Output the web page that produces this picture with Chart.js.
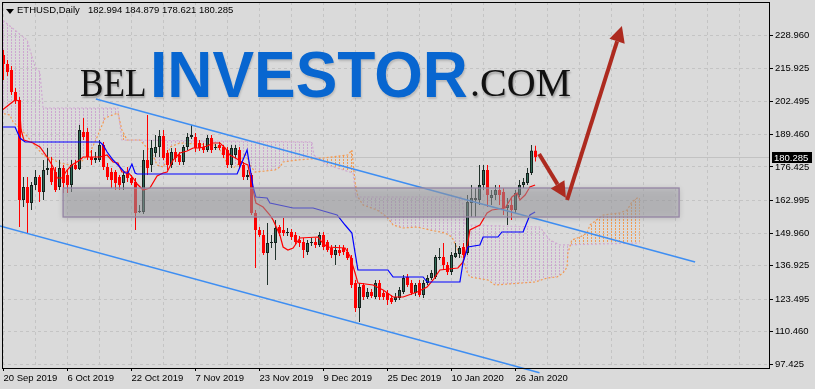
<!DOCTYPE html>
<html>
<head>
<meta charset="utf-8">
<title>ETHUSD Daily</title>
<style>
  html, body { margin: 0; padding: 0; background: #dadada; }
  #wrap { position: relative; width: 815px; height: 389px; overflow: hidden; }
  #chart { position: absolute; left: 0; top: 0; }
  .hdr { position: absolute; top: 4px; font: 9.5px "Liberation Sans", Arial, sans-serif; color: #000; white-space: pre; line-height: 12px; }
  #tri { position: absolute; left: 6px; top: 9px; width: 0; height: 0;
         border-left: 4px solid transparent; border-right: 4px solid transparent; border-top: 5px solid #000; }
  .logo { position: absolute; white-space: pre; transform-origin: 0 0; }
  .serif { font: 40px/40px "Liberation Serif", "Times New Roman", serif; color: #111;
           text-shadow: 1px 2px 2px rgba(0,0,0,0.3); }
  .sans { font: bold 65px/65px "Liberation Sans", Arial, sans-serif; color: #0866d0;
          text-shadow: 1px 2px 2px rgba(0,0,0,0.15); }
</style>
<script src="https://cdn.jsdelivr.net/npm/chart.js@4.4.1/dist/chart.umd.min.js"></script>
</head>
<body>
<div id="wrap">
  <canvas id="chart" width="815" height="389"></canvas>
  <div id="tri"></div>
  <div class="hdr" style="left:17px">ETHUSD,Daily</div>
  <div class="hdr" id="ohlc" style="left:88px"></div>
  <div class="logo serif" style="left:80px;top:63px;transform:scaleX(0.88)">BEL</div>
  <div class="logo sans" style="left:150px;top:42px;transform:scaleX(0.96)">INVESTOR</div>
  <div class="logo serif" style="left:470px;top:63px">.COM</div>
</div>
<script>
// daily candles, bar 0 = 20 Sep 2019
const opens = [221.2,217.6,215.2,206.4,203.2,163.2,168.4,162,169.2,172.4,
  166.4,175.2,176,174.4,168.4,176,173.2,169.2,177.2,175.6,
  190.4,190.4,180.4,179.2,179.2,185.2,176.4,174.4,174.4,172.4,
  170,174,172,170.4,158.4,158.4,179.2,177.2,182,184.4,
  188.8,182,177.2,182.4,181.2,178.4,184.4,188.4,188.4,186,
  184.4,183.2,188,184,185.2,184.4,183.2,177.2,181.2,183.2,
  177.2,172.4,173.2,158,151.2,149.2,142,146,146,152.4,
  151.2,150,150.4,149.2,147.2,146.4,142.4,146,146.4,145.2,
  149.2,146.4,144,141.2,143.2,144,142.4,140,130,120,
  129.2,124.4,126.4,124.4,130,126,126,124,123.2,124,
  126.4,132.4,130,126,130,125.2,130,132,132.4,140,
  140.4,137.2,134.4,140.4,141.6,144.4,142,162,163.2,163.2,
  169.2,175.2,164,165.2,167.2,166.4,160,161.2,159.2,165.2,
  169.2,170,174,182.994];
const highs = [223.2,219.2,216.8,208,204.4,172.4,172.4,170.4,175.2,173.2,
  179.2,184,180.4,176.4,179.2,177.2,175.2,179.2,179.2,193.2,
  196,192,183.2,182.4,187.2,186.4,178,176,175.2,173.2,
  174.4,176.4,173.2,172,161.2,183.2,197.2,187.2,189.2,191.2,
  191.2,183.2,184,184,182.4,185.2,190,193.2,190,187.2,
  186,189.2,189.2,185.6,186.4,185.2,184.4,185.2,185.2,184.4,
  178.4,175.2,174,159.2,152.4,151.2,154,149.2,155.2,153.2,
  156,152,151.6,150.4,148.8,148,147.2,148,148,150.4,
  150.4,147.2,145.2,145.2,145.2,145.2,144,141.2,131.2,130,
  130,128,127.6,131.2,131.2,127.2,127.2,125.2,126,128.4,
  133.2,133.6,131.2,130,131.2,131.2,133.2,135.2,141.2,144,
  146,138.4,142.4,146,144.8,146,165.2,169.2,168,177.2,
  177.2,177.2,167.2,169.2,169.2,168,164,164,167.2,171.2,
  172,176,185.2,184.879];
const lows = [211.2,212.8,205.2,201.6,152.4,160.4,150,159.2,167.2,162.4,
  163.2,173.2,169.2,166.4,167.2,166,166,166.4,175.2,175.2,
  187.2,179.2,177.2,178,178.4,175.2,171.2,168,167.2,167.2,
  167.2,170.4,169.2,151.2,158,157.6,173.2,174.4,180.4,180.4,
  179.2,175.2,176,178.4,177.2,177.2,183.2,187.6,182.4,182.8,
  182,182.4,182,183.2,183.2,180,176,176,180,176,
  171.2,171.2,157.2,136,148.4,141.2,129.2,144,139.2,148.8,
  148.8,148.8,147.2,145.2,144.4,140,141.2,144.8,144,144.4,
  143.2,142.4,140,137.2,140.8,141.2,139.2,128,118.4,114.4,
  123.2,123.6,124,123.6,123.2,123.2,121.2,121.6,122.4,123.2,
  125.6,128.4,125.2,124.8,124.4,124,129.2,131.2,131.6,139.2,
  135.2,133.2,133.2,140,140,140,141.2,156.4,156.4,161.2,
  167.2,160.4,161.2,163.2,161.2,157.2,153.2,155.2,158,164.4,
  168,169.2,173.2,178.621];
const closes = [217.6,214.4,206.4,203.2,163.2,168.4,162,169.2,172.4,166.4,
  175.2,176,170.4,167.2,176,170,169.2,177.2,175.6,191.2,
  188.4,180.4,179.2,180,185.2,176.4,172.4,171.2,170,169.2,
  173.2,172,170,158,158.8,179.2,176,184,184.4,188.8,
  180,177.2,182.4,180,178.4,184.4,188.4,189.2,184,184,
  183.2,188,183.2,184.4,184,181.2,177.2,184,184,177.2,
  172.4,173.2,158,151.2,149.2,142,146,146.4,152,150,
  150,150.4,148.4,146.4,146,143.2,146,146.4,145.2,149.2,
  144.4,143.2,141.2,143.2,142,142.4,140,129.2,120,128.4,
  124.4,126.4,124.8,130,124.4,124.4,123.2,122.4,124.4,127.2,
  132,129.2,126,129.2,125.2,130,132,134,140.4,140.4,
  137.2,134.4,141.2,142,144,141.2,162.4,164,164,169.2,
  175.2,165.2,165.2,167.2,165.2,160,161.2,159.2,166,169.2,
  170.4,174,182.994,180.285];

// Ichimoku lines (bar index, price)
const tenkanBars = [-0.9,2.9,3.9,4.4,5.1,7.4,9.1,10.9,12.4,13.4,14.6,15.9,17.1,19.1,19.9,24.1,25.9,27.4,28.6,29.6,
  31.1,32.4,33.4,34.9,36.6,38.4,39.9,40.9,42.4,44.1,45.9,47.4,49.1,50.9,52.4,54.1,55.4,56.6,58.4,59.9,
  61.1,62.1,63.1,64.9,66.6,67.4,69.1,69.9,71.1,72.4,74.1,78.6,79.6,80.9,85.4,86.6,87.9,88.6,92.4,94.9,
  97.4,99.9,103.4,105.9,107.4,109.1,113.6,114.9,115.9,116.6,119.1,120.9,122.1,125.4,127.1,128.4,129.1,130.4,131.6,132.9];
const tenkanPrices = [198.4,203.2,202.8,191.2,187.2,186,184.4,180.4,176.4,172,172,175.2,177.2,179.2,180.4,180.4,181.2,178.4,178,174.4,
  174.4,172,169.6,167.2,168,172.8,174,174.4,179.2,182,182.8,184,184,184.8,186,186,184,181.2,179.6,178,
  177.2,169.2,162,160.4,157.2,155.2,149.2,144.4,143.2,144,148,148.4,146.4,144.4,144,140.8,134,130,129.2,127.2,
  124.4,124.4,126.4,128.4,131.2,135.2,136,138.4,144.4,151.2,153.2,158,159.2,160,164.4,166,163.2,165.2,168.4,169.2];
const kijunBars = [-0.9,2.9,4.1,5.4,24.1,24.9,25.9,27.4,29.1,30.4,31.1,32.1,32.9,33.4,58.4,60.9,62.4,63.1,65.9,66.6,
  72.4,77.4,83.4,85.4,87.1,87.9,88.6,96.1,97.4,104.9,105.9,114.1,114.9,116.1,119.1,119.9,123.6,124.6,129.9,131.6,132.9];
const kijunPrices = [192.4,192.4,188,186.4,186.4,185.2,182.4,179.2,176.4,174,174,177.6,174,173.6,173.6,183.2,168.4,164.4,164,162,
  160,160,157.2,153.2,150,142,135.2,135.2,132.4,132.4,130.4,130.4,138.4,144.4,145.2,148.4,148.4,150.4,150.4,157.2,158.4];
const spanABars = [-0.9,1.6,2.4,4.1,9.9,11.6,14.1,16.6,19.1,21.6,23.4,25.4,28.6,29.6,30.9,34.1,37.1,38.4,39.9,40.9,
  41.6,44.1,52.9,54.1,55.9,57.4,59.1,60.4,61.6,62.9,67.9,69.1,69.9,73.4,79.9,86.1,87.1,87.9,88.6,89.9,
  93.4,95.9,97.4,99.9,103.4,106.6,110.4,112.1,113.6,114.9,115.9,116.6,121.1,122.9,129.6,132.9,135.9,138.4,139.9,140.9,
  141.1,142.1,144.1,145.9,146.6,149.9,154.1,155.9,157.1,158.4,159.1];
const spanAPrices = [198,197.2,194.4,192,181.2,180,178,177.2,178,182,188.4,196,198,191.2,187.2,187.2,182,177.2,176.4,179.2,
  184.4,186,185.2,183.2,178,176,178,182,177.2,174.4,175.2,176.4,178.4,179.2,180,181.2,183.2,170,164.4,161.2,
  159.2,156.4,153.2,152,152.4,151.2,150,148.4,143.2,139.2,134.4,132.4,131.2,129.2,130,130.4,132,132.4,134,136.4,
  142,147.2,148.4,150,153.2,157.2,158,159.2,162.4,164,164];
const spanBBars = [-0.9,5.9,7.9,9.1,9.9,28.6,29.6,77.1,77.6,80.9,87.4,88.1,114.6,115.4,134.1,136.6,139.1,159.1];
const spanBPrices = [236,227.2,216.4,214.4,200,200,187.2,186.4,181.2,177.2,174,164.4,164.4,153.2,152.4,147.2,145.2,146];

// drawn objects
const channelUpperBars = [23.1, 172.9];
const channelUpperPrices = [203.6, 138.4];
const channelLowerBars = [-0.9, 134.0];
const channelLowerPrices = [152.8, 94.1];
const zoneBars = [14.9, 168.9];
const zonePrices = [156.4, 168.0];
const arrowFromBars = [133.9, 140.9];
const arrowFromPrices = [181.6, 163.2];
const arrowToBars = [140.6, 154.6];
const arrowToPrices = [164.0, 232.8];

// axes
const priceTicks = [97.425, 110.460, 123.495, 136.925, 149.960, 162.995, 176.425, 189.460, 202.495, 215.925, 228.960];
const gridBars = [0,8,16,24,32,40,48,56,64,72,80,88,96,104,112,120,128,136,144,152,160,168,176,184];
const dateLabelBars = [0,16,32,48,64,80,96,112,128];
const dateLabels = ['20 Sep 2019','6 Oct 2019','22 Oct 2019','7 Nov 2019','23 Nov 2019','9 Dec 2019','25 Dec 2019','10 Jan 2020','26 Jan 2020'];

const last = closes.length - 1;
document.getElementById('ohlc').textContent =
  [opens[last], highs[last], lows[last], closes[last]].map(v => v.toFixed(3)).join(' ');

// vertical dotted hatch, one column per bar
function hatch(color) {
  const c = document.createElement('canvas');
  c.width = 4; c.height = 3;
  const g = c.getContext('2d');
  g.fillStyle = color;
  g.fillRect(3, 0, 1, 2);
  return g.createPattern(c, 'repeat');
}

const pts = (bars, prices) => bars.map((b, i) => ({ x: b, y: prices[i] }));
const isBull = i => closes[i] >= opens[i];
const idx = closes.map((c, i) => i);

const overlay = {
  id: 'overlay',
  beforeDatasetsDraw(chart) {
    const { ctx, chartArea: a, scales: { y } } = chart;
    const py = Math.round(y.getPixelForValue(closes[last])) + 0.5;
    ctx.save();
    ctx.strokeStyle = '#c2c2c2';
    ctx.lineWidth = 1;
    ctx.beginPath(); ctx.moveTo(a.left, py); ctx.lineTo(a.right, py); ctx.stroke();
    ctx.restore();
  },
  afterDatasetsDraw(chart) {
    const { ctx, scales: { x, y } } = chart;
    // support zone
    const x0 = x.getPixelForValue(zoneBars[0]), x1 = x.getPixelForValue(zoneBars[1]);
    const y0 = y.getPixelForValue(zonePrices[1]), y1 = y.getPixelForValue(zonePrices[0]);
    ctx.save();
    ctx.shadowColor = 'rgba(0,0,0,0.35)';
    ctx.shadowBlur = 6;
    ctx.shadowOffsetY = 1;
    ctx.fillStyle = 'rgba(172,172,178,0.48)';
    ctx.fillRect(x0, y0, x1 - x0, y1 - y0);
    ctx.shadowColor = 'transparent';
    ctx.strokeStyle = '#9484a4';
    ctx.lineWidth = 1.3;
    ctx.strokeRect(x0, y0, x1 - x0, y1 - y0);
    ctx.restore();

    // arrows
    ctx.save();
    ctx.strokeStyle = '#ad2a1f';
    ctx.fillStyle = '#ad2a1f';
    ctx.lineWidth = 4;
    for (let k = 0; k < arrowFromBars.length; k++) {
      const ax = x.getPixelForValue(arrowFromBars[k]), ay = y.getPixelForValue(arrowFromPrices[k]);
      const bx = x.getPixelForValue(arrowToBars[k]), by = y.getPixelForValue(arrowToPrices[k]);
      const ang = Math.atan2(by - ay, bx - ax);
      const len = 16, half = 8;
      const hx = bx - len * Math.cos(ang), hy = by - len * Math.sin(ang);
      ctx.beginPath(); ctx.moveTo(ax, ay); ctx.lineTo(hx, hy); ctx.stroke();
      ctx.beginPath();
      ctx.moveTo(bx, by);
      ctx.lineTo(hx + half * Math.sin(ang), hy - half * Math.cos(ang));
      ctx.lineTo(hx - half * Math.sin(ang), hy + half * Math.cos(ang));
      ctx.closePath(); ctx.fill();
    }
    ctx.restore();
  },
  afterDraw(chart) {
    const { ctx, chartArea: a, scales: { y } } = chart;
    ctx.save();
    ctx.strokeStyle = '#000';
    ctx.lineWidth = 1;
    ctx.strokeRect(a.left + 0.5, a.top + 0.5, a.right - a.left, a.bottom - a.top);
    // current price tag
    const py = Math.round(y.getPixelForValue(closes[last]));
    ctx.fillStyle = '#000';
    ctx.fillRect(a.right + 3, py - 5, 40, 11);
    ctx.fillStyle = '#fff';
    ctx.font = '9.5px "Liberation Sans", Arial, sans-serif';
    ctx.textBaseline = 'middle';
    ctx.fillText(closes[last].toFixed(3), a.right + 5, py + 1);
    ctx.restore();
  }
};

Chart.defaults.font.family = '"Liberation Sans", Arial, sans-serif';
Chart.defaults.font.size = 9.5;
Chart.defaults.color = '#000';

new Chart(document.getElementById('chart'), {
  type: 'line',
  data: {
    datasets: [
      {
        label: 'Senkou Span A',
        data: pts(spanABars, spanAPrices),
        borderColor: '#f39a52', borderWidth: 1.2, borderDash: [2, 2],
        pointRadius: 0, tension: 0,
        fill: { target: '+1', above: hatch('#f19c55'), below: hatch('#cda6d0') },
        order: 10
      },
      {
        label: 'Senkou Span B',
        data: pts(spanBBars, spanBPrices),
        borderColor: '#cfa9d2', borderWidth: 1.2, borderDash: [2, 2],
        pointRadius: 0, tension: 0, fill: false,
        order: 9
      },
      {
        type: 'bar',
        label: 'wicks',
        data: idx.map(i => ({ x: i, y: [lows[i], highs[i]] })),
        backgroundColor: idx.map(i => isBull(i) ? '#22332c' : '#ff0000'),
        borderWidth: 0, barThickness: 1, grouped: false, inflateAmount: 0,
        order: 8
      },
      {
        type: 'bar',
        label: 'bodies',
        data: idx.map(i => ({ x: i, y: [opens[i], closes[i]] })),
        backgroundColor: idx.map(i => isBull(i) ? '#2f6a55' : '#ff0000'),
        borderColor: idx.map(i => isBull(i) ? '#15201c' : '#ff0000'),
        borderWidth: 1, borderSkipped: false, barThickness: 3, grouped: false, inflateAmount: 0,
        order: 7
      },
      {
        label: 'Tenkan-sen',
        data: pts(tenkanBars, tenkanPrices),
        borderColor: '#ff0000', borderWidth: 1.2, pointRadius: 0, tension: 0,
        order: 5
      },
      {
        label: 'Kijun-sen',
        data: pts(kijunBars, kijunPrices),
        borderColor: '#0000ff', borderWidth: 1.2, pointRadius: 0, tension: 0,
        order: 4
      },
      {
        label: 'channel top',
        data: pts(channelUpperBars, channelUpperPrices),
        borderColor: '#3e8ef2', borderWidth: 1.5, pointRadius: 0,
        order: 3
      },
      {
        label: 'channel bottom',
        data: pts(channelLowerBars, channelLowerPrices),
        borderColor: '#3e8ef2', borderWidth: 1.5, pointRadius: 0, clip: false,
        order: 3
      }
    ]
  },
  options: {
    responsive: false,
    devicePixelRatio: 1,
    animation: false,
    events: [],
    layout: { padding: { left: 2, top: 2, right: 0, bottom: 0 } },
    plugins: { legend: { display: false }, tooltip: { enabled: false } },
    scales: {
      x: {
        type: 'linear',
        min: -0.375, max: 191.375,
        offset: false,
        grid: {
          color: '#c4c4c4', offset: false, tickLength: 3,
          tickColor: c => (c.tick && dateLabelBars.includes(c.tick.value)) ? '#000' : 'rgba(0,0,0,0)'
        },
        border: { display: false, dash: [3, 3] },
        ticks: {
          autoSkip: false, maxRotation: 0, align: 'start', padding: 2,
          callback: v => { const k = dateLabelBars.indexOf(v); return k < 0 ? '' : dateLabels[k]; }
        },
        afterBuildTicks: s => { s.ticks = gridBars.map(v => ({ value: v })); },
        afterFit: s => { s.height = 21; s.paddingLeft = 0; s.paddingRight = 0; }
      },
      y: {
        type: 'linear',
        position: 'right',
        min: 96.0, max: 242.4,
        grid: { color: '#c4c4c4', tickLength: 4, tickColor: '#000' },
        border: { display: false, dash: [3, 3] },
        ticks: { autoSkip: false, padding: 2, callback: v => v.toFixed(3) },
        afterBuildTicks: s => { s.ticks = priceTicks.map(v => ({ value: v })); },
        afterFit: s => { s.width = 46; s.paddingTop = 0; s.paddingBottom = 0; }
      }
    }
  },
  plugins: [overlay]
});
</script>
</body>
</html>
